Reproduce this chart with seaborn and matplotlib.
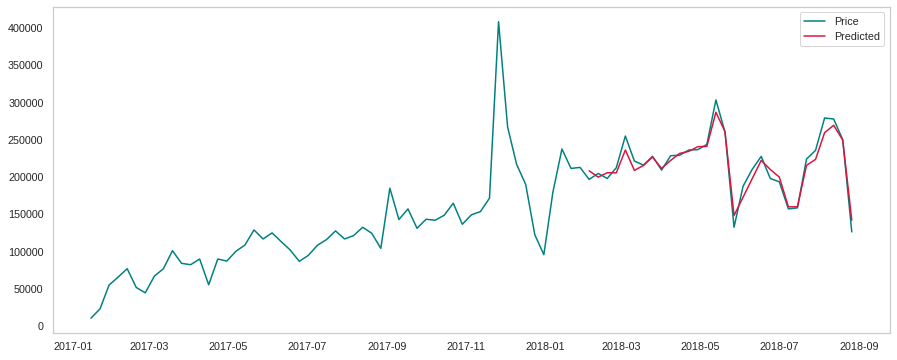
import pandas as pd
import matplotlib
matplotlib.use("Agg")
import matplotlib.pyplot as plt
import seaborn as sns

start_date = "2017-01-15"
n_weeks = 85
pred_start = "2018-02-04"

price = [
    11000, 23500, 55400, 66100, 77300, 52200, 45000, 67400, 77300, 101500,
    84500, 82700, 90300, 55800, 90300, 87600, 100600, 109100, 129300, 117200,
    125300, 113600, 102400, 87200, 95200, 108700, 116300, 128000, 117200, 121700,
    132900, 124800, 104600, 185300, 143200, 157500, 131500, 143600, 142300, 149000,
    165100, 136900, 149500, 153900, 171900, 408500, 267300, 217100, 190200, 123000,
    96100, 179900, 237800, 211800, 213100, 197000, 205000, 198300, 212700, 255200,
    221600, 216200, 227900, 209500, 228800, 229500, 236400, 236900, 244000, 303600,
    260600, 132900, 188000, 210400, 227900, 198300, 193800, 157500, 158900, 224300,
    236000, 279400, 278000, 250300, 126600,
]

predicted = [
    208600, 200100, 205900, 205900, 236400, 209100, 215800, 227000, 211800, 222500,
    231900, 234600, 240900, 241300, 287000, 261100, 148600, 173200, 197900, 222500,
    210400, 200100, 160300, 160300, 215800, 223900, 259700, 269600, 249800, 142300,
]

dates = pd.date_range(start_date, periods=n_weeks, freq="7D")
pred_dates = pd.date_range(pred_start, periods=len(predicted), freq="7D")

df_price = pd.DataFrame({"Date": dates, "Price": price})
df_pred = pd.DataFrame({"Date": pred_dates, "Predicted": predicted})

sns.set_theme(style="whitegrid")
plt.rcParams["font.family"] = ["Liberation Sans", "DejaVu Sans"]

fig, ax = plt.subplots(figsize=(897 / 72, 360 / 72), dpi=72)
fig.subplots_adjust(left=0.059, right=0.992, top=0.981, bottom=0.075)

sns.lineplot(data=df_price, x="Date", y="Price", color="#008080", label="Price", ax=ax, linewidth=1.5)
sns.lineplot(data=df_pred, x="Date", y="Predicted", color="#DC143C", label="Predicted", ax=ax, linewidth=1.5)

ax.grid(False)
ax.set_xlabel("")
ax.set_ylabel("")
ax.tick_params(labelsize=10.8)
ax.legend(loc="upper right", fontsize=10.8)

fig.savefig("out.png", dpi=72)
